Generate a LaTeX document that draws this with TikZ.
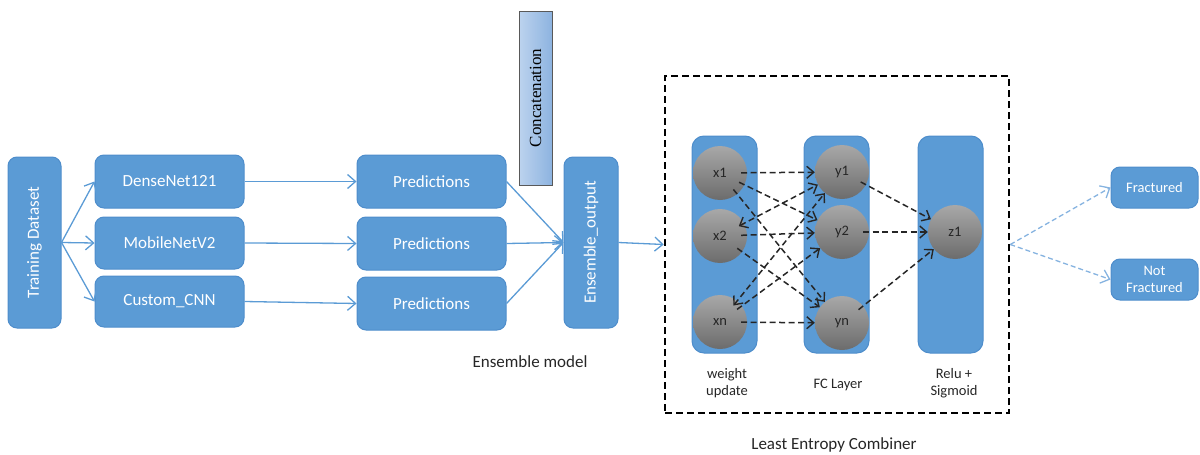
\documentclass[tikz,border=0pt]{standalone}
\usepackage{fontspec}
\setmainfont{Carlito}
\newfontfamily\serifface{Liberation Serif}
\usetikzlibrary{arrows.meta,shadings}

\definecolor{boxblue}{HTML}{5B9BD5}
\definecolor{boxedge}{HTML}{4E8DCB}
\definecolor{linkblue}{HTML}{5B9BD5}
\definecolor{outblue}{HTML}{86B3E0}
\definecolor{ink}{HTML}{262626}
\definecolor{concatlight}{HTML}{BCD3EE}
\definecolor{concatdark}{HTML}{8DB3E0}
\definecolor{neurontop}{HTML}{A8A8A8}
\definecolor{neuronbottom}{HTML}{6C6C6C}

\begin{document}
\begin{tikzpicture}[x=1pt,y=-1pt,
  box/.style={draw=boxedge, line width=1pt, fill=boxblue, rounded corners=9pt,
    text=white, font=\fontsize{17}{20}\selectfont, inner sep=0pt, align=center},
  smallbox/.style={box, font=\fontsize{14.5}{17}\selectfont},
  column/.style={draw=boxedge, line width=1pt, fill=boxblue, rounded corners=12pt,
    minimum width=65pt, minimum height=217pt, inner sep=0pt},
  neuron/.style={circle, minimum size=54pt, inner sep=0pt, top color=neurontop,
    bottom color=neuronbottom, text=ink, font=\fontsize{14.5}{17}\selectfont},
  caption/.style={text=ink, font=\fontsize{17}{20}\selectfont, align=center},
  smallcaption/.style={text=ink, font=\fontsize{14.5}{17}\selectfont, align=center},
  link/.style={draw=linkblue, line width=1.3pt,
    -{Straight Barb[length=8pt,width=14pt,line width=1.3pt]}},
  outlink/.style={draw=outblue, line width=1.3pt, dash pattern=on 5pt off 3pt,
    -{Straight Barb[length=8pt,width=14pt,line width=1.3pt]}},
  wire/.style={draw=ink, line width=1.5pt, dash pattern=on 6pt off 3.5pt,
    shorten <=-6pt,
    -{Straight Barb[length=7pt,width=12pt,line width=1.4pt]}},
  bothwire/.style={wire, {Straight Barb[length=7pt,width=12pt,line width=1.4pt]}-{Straight Barb[length=7pt,width=12pt,line width=1.4pt]}},
]
\useasboundingbox (0,0) rectangle (1200,455);

% ---- base learners ----
\node[box, rotate=90, minimum width=171pt, minimum height=53pt] (train) at (34.5,242.5) {Training Dataset};
\node[box, minimum width=149pt, minimum height=53pt] (dense) at (169.5,181.5) {DenseNet121};
\node[box, minimum width=149pt, minimum height=52pt] (mobile) at (169.5,243) {MobileNetV2};
\node[box, minimum width=149pt, minimum height=51pt] (custom) at (169.5,301.5) {Custom\_CNN};

\node[box, minimum width=149pt, minimum height=53pt] (pred1) at (431.5,181.5) {Predictions};
\node[box, minimum width=149pt, minimum height=53pt] (pred2) at (431.5,243.5) {Predictions};
\node[box, minimum width=149pt, minimum height=53pt] (pred3) at (431.5,303.5) {Predictions};

\node[draw=gray!70!black, line width=1pt, left color=concatlight, right color=concatdark,
  rotate=90, minimum width=174pt, minimum height=33pt, inner sep=0pt,
  font=\serifface\fontsize{17}{20}\selectfont] (concat) at (535.5,98) {Concatenation};

\node[box, rotate=90, minimum width=171pt, minimum height=54pt] (ens) at (591,242.5) {Ensemble\_output};
\node[caption] (enslabel) at (530,362) {Ensemble model};

\draw[link] (train.south) -- (dense.west);
\draw[link] (train.south) -- (mobile.west);
\draw[link] (train.south) -- (custom.west);
\draw[link] (dense.east) -- (pred1.west);
\draw[link] (mobile.east) -- (pred2.west);
\draw[link] (custom.east) -- (pred3.west);
\draw[link] (pred1.east) -- (ens.north);
\draw[link] (pred2.east) -- (ens.north);
\draw[link] (pred3.east) -- (ens.north);

% ---- least entropy combiner ----
\node[draw=black, line width=2.6pt, dash pattern=on 7pt off 4pt, minimum width=344pt,
  minimum height=337pt, inner sep=0pt] (comb) at (837,244.5) {};
\node[caption] (comblabel) at (834,445) {Least Entropy Combiner};

\draw[link] (ens.south) -- (comb.west);

\node[column] (colx) at (724.5,244.5) {};
\node[column] (coly) at (836.5,244.5) {};
\node[column] (colz) at (950.5,244.5) {};

\node[neuron] (x1) at (720,173) {x1};
\node[neuron] (x2) at (720,236) {x2};
\node[neuron] (xn) at (720,322) {xn};
\node[neuron] (y1) at (842,172) {y1};
\node[neuron] (y2) at (842,232) {y2};
\node[neuron] (yn) at (842,323) {yn};
\node[neuron] (z1) at (955,232) {z1};

\node[smallcaption] (lx) at (727,383) {weight\\update};
\node[smallcaption] (ly) at (838,385) {FC Layer};
\node[smallcaption] (lz) at (954,383) {Relu +\\Sigmoid};

\draw[wire] (x1) -- (y1);
\draw[wire] (x1) -- (y2);
\draw[wire] (x1) -- (yn);
\draw[bothwire] (x2) -- (y1);
\draw[wire] (x2) -- (y2);
\draw[wire] (x2) -- (yn);
\draw[bothwire] (xn) -- (y1);
\draw[wire] (xn) -- (y2);
\draw[wire] (xn) -- (yn);
\draw[wire] (y1) -- (z1);
\draw[wire] (y2) -- (z1);
\draw[wire] (yn) -- (z1);

% ---- outputs ----
\node[smallbox, minimum width=87pt, minimum height=41pt] (frac) at (1154.5,187.5) {Fractured};
\node[smallbox, minimum width=87pt, minimum height=41pt] (nofrac) at (1154.5,279.5) {Not\\Fractured};

\draw[outlink] (comb.east) -- (frac.west);
\draw[outlink] (comb.east) -- (nofrac.west);
\end{tikzpicture}
\end{document}
